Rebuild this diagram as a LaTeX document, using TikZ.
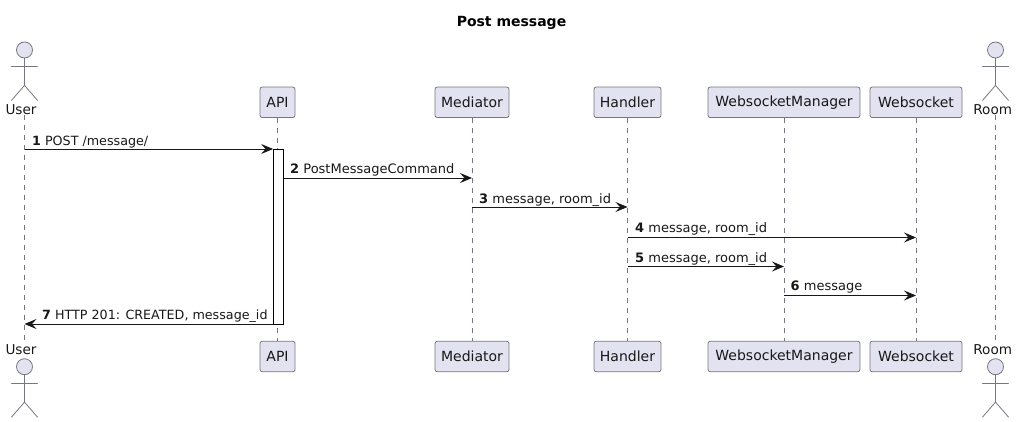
\documentclass[tikz,border=0pt]{standalone}
\usepackage{fontspec}
\setmainfont{DejaVu Sans}
\usetikzlibrary{arrows.meta,calc}
\definecolor{pfill}{HTML}{E2E2F0}
\definecolor{pline}{HTML}{777782}
\definecolor{ink}{HTML}{181818}
\tikzset{
  x=1pt,y=-1pt,
  txt/.style={font=\fontsize{13.6}{16}\selectfont,text=ink,inner sep=0pt},
  part/.style={draw=pline,fill=pfill,rounded corners=2.2pt,line width=0.8pt,inner sep=0pt,minimum height=30.5pt,font=\fontsize{14}{16}\selectfont,text=ink},
  life/.style={draw=pline,line width=0.7pt,dash pattern=on 5pt off 5pt},
  msg/.style={draw=ink,line width=0.9pt,-{Stealth[length=12pt,width=10pt,inset=4.5pt]}},
  lab/.style={font=\fontsize{13}{15}\selectfont,text=ink,inner sep=0pt,anchor=base west},
  labn/.style={lab,font=\fontsize{12.7}{15}\selectfont},
  act/.style={draw=pline,fill=pfill,line width=0.8pt},
  limb/.style={draw=pline,line width=0.8pt,line cap=round}
}
\newcommand{\stickman}[3]{% name, x, head y
  \node[circle,act,minimum size=16pt,inner sep=0pt] (#1) at (#2,#3) {};
  \coordinate (#1hip) at ($(#1.south)+(0,27)$);
  \draw[limb] (#1.south) -- (#1hip);
  \draw[limb] ($(#1.south)+(-13,8)$) -- ($(#1.south)+(13,8)$);
  \draw[limb] (#1hip) -- ($(#1hip)+(-13,15)$);
  \draw[limb] (#1hip) -- ($(#1hip)+(13,15)$);
}
\newcommand{\num}[1]{\textbf{#1}}
\begin{document}
\begin{tikzpicture}
\useasboundingbox (0,0) rectangle (1019,422);
\node[font=\bfseries\fontsize{14}{16}\selectfont,text=black,inner sep=0pt] (title) at (511.5,23) {Post message};

\stickman{userTop}{24.5}{50}
\stickman{roomTop}{995.5}{50}
\stickman{userBot}{24.5}{366.7}
\stickman{roomBot}{995.5}{366.7}

\node[txt] (userT) at (21,110) {User};
\node[txt] (userB) at (21,350) {User};
\node[txt] (roomT) at (992.7,110) {Room};
\node[txt] (roomB) at (992.7,350) {Room};

\foreach \n/\cx/\w/\t in {api/277.5/35/API,med/472/74/Mediator,han/627.5/67/Handler,wsm/784/152/WebsocketManager,ws/916/92/Websocket}{
  \node[part,minimum width=\w pt] (\n T) at (\cx,102.3) {\t};
  \node[part,minimum width=\w pt] (\n B) at (\cx,356.5) {\t};
}
\draw[life] (userTop.south|-userT.south) -- (userTop.south|-userB.north);
\draw[life] (apiT.south) -- (apiB.north);
\draw[life] (medT.south) -- (medB.north);
\draw[life] (hanT.south) -- (hanB.north);
\draw[life] (wsmT.south) -- (wsmB.north);
\draw[life] (wsT.south) -- (wsB.north);
\draw[life] (roomTop.south|-roomT.south) -- (roomTop.south|-roomB.north);

\node[draw=black,fill=white,line width=0.8pt,minimum width=10pt,minimum height=175pt,inner sep=0pt] (bar) at (278.5,236.5) {};

% endpoints on lifelines
\coordinate (u1) at (userTop.south|-0,149);
\coordinate (a1) at (bar.west|-0,149);
\coordinate (a2) at (bar.east|-0,178);
\coordinate (m2) at (medT|-0,178);
\coordinate (m3) at (medT|-0,207);
\coordinate (h3) at (hanT|-0,207);
\coordinate (h4) at (hanT|-0,237.5);
\coordinate (s4) at (wsT|-0,237.5);
\coordinate (h5) at (hanT|-0,266.5);
\coordinate (w5) at (wsmT|-0,266.5);
\coordinate (w6) at (wsmT|-0,295.5);
\coordinate (s6) at (wsT|-0,295.5);
\coordinate (a7) at (bar.west|-0,324);
\coordinate (u7) at (userTop.south|-0,324);

\draw[msg] (u1) -- (a1);
\draw[msg] (a2) -- (m2);
\draw[msg] (m3) -- (h3);
\draw[msg] (h4) -- (s4);
\draw[msg] (h5) -- (w5);
\draw[msg] (w6) -- (s6);
\draw[msg] (a7) -- (u7);

\node[labn] (l1) at (32,146) {\num{1} POST /message/};
\node[lab] (l2) at (290,174) {\num{2} PostMessageCommand};
\node[lab] (l3) at (479,203) {\num{3} message, room\_id};
\node[lab] (l4) at (635,232.5) {\num{4} message, room\_id};
\node[lab] (l5) at (635,262) {\num{5} message, room\_id};
\node[lab] (l6) at (790.5,290.5) {\num{6} message};
\node[labn] (l7) at (42,319.5) {\num{7} HTTP 201: CREATED, message\_id};
\end{tikzpicture}
\end{document}
